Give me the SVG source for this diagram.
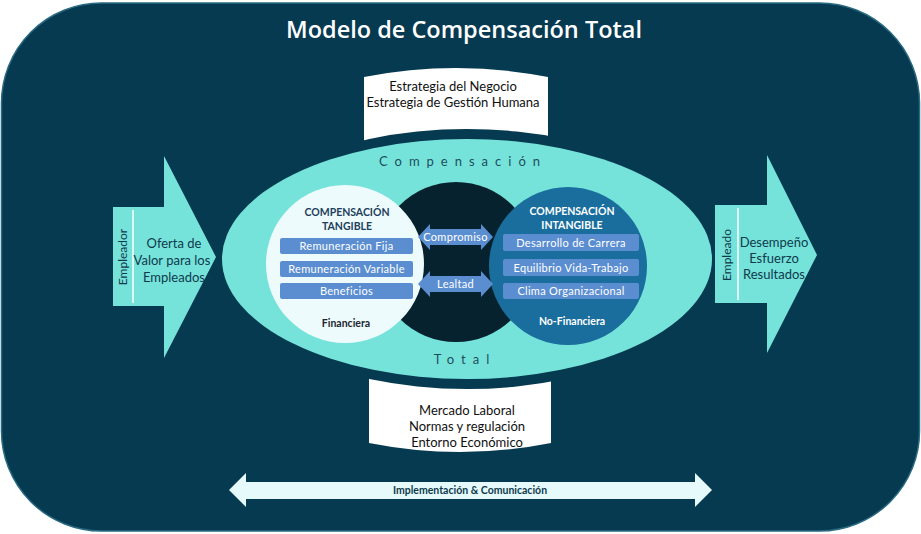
<svg xmlns="http://www.w3.org/2000/svg" width="921" height="534" viewBox="0 0 921 534">
<style>
.t{font-family:Lato,"Open Sans","Liberation Sans",sans-serif}
.box{fill:#5b8ed0}
.bt{font-family:Lato,"Open Sans","Liberation Sans",sans-serif;font-size:11px;fill:#ffffff;text-anchor:middle;letter-spacing:0.3px}
.hd{font-family:Lato,"Open Sans","Liberation Sans",sans-serif;font-size:10.5px;font-weight:bold;text-anchor:middle}
.dk{fill:#0f3a4c}
.teal{fill:#76e3da}
.sp{font-family:Lato,"Open Sans","Liberation Sans",sans-serif;font-size:13px;fill:#1e4d5c;text-anchor:middle;letter-spacing:7px}
.mid{font-family:Lato,"Open Sans","Liberation Sans",sans-serif;font-size:13px;fill:#111111;text-anchor:middle}
</style>
<g id="background">
<rect x="1.5" y="3" width="918" height="528" rx="100" ry="100" fill="#063a51" stroke="#2a6a82" stroke-width="1.5"/>
</g>
<g id="title">
<text x="464" y="38" font-family="'Open Sans',Lato,sans-serif" font-size="23.5" font-weight="600" fill="#ffffff" text-anchor="middle">Modelo de Compensación Total</text>
</g>
<g id="top-box">
<path d="M364,77 Q456,59 548,77 L548,150 L364,150 Z" fill="#ffffff"/>
</g>
<g id="bottom-box">
<path d="M369,375 L551,375 L551,443 Q460,461 369,443 Z" fill="#ffffff"/>
</g>
<g id="ellipse">
<ellipse cx="467" cy="259" rx="255" ry="130" fill="#063a51"/>
<ellipse cx="467" cy="259" rx="245" ry="120" fill="#76e3da"/>
<text class="sp" x="463" y="166">Compensación</text>
<text class="sp" x="465" y="364">Total</text>
</g>
<g id="top-box-text">
<text class="mid" x="453" y="91" font-size="12.5">Estrategia del Negocio</text>
<text class="mid" x="453" y="107" font-size="12.5">Estrategia de Gestión Humana</text>
</g>
<g id="bottom-box-text">
<text class="mid" x="467" y="415">Mercado Laboral</text>
<text class="mid" x="467" y="431">Normas y regulación</text>
<text class="mid" x="467" y="447">Entorno Económico</text>
</g>
<g id="center-circle">
<circle cx="456" cy="262" r="80" fill="#07222f"/>
</g>
<g id="tangible">
<circle cx="345" cy="264" r="79" fill="#eefbfd"/>
<text class="hd" x="347" y="216" fill="#1d3f5c">COMPENSACIÓN</text>
<text class="hd" x="347" y="230" fill="#1d3f5c">TANGIBLE</text>
<rect class="box" x="280" y="238" width="133" height="16" rx="2"/>
<text class="bt" x="346.5" y="250">Remuneración Fija</text>
<rect class="box" x="280" y="261" width="133" height="16" rx="2"/>
<text class="bt" x="346.5" y="273">Remuneración Variable</text>
<rect class="box" x="280" y="283" width="133" height="16" rx="2"/>
<text class="bt" x="346.5" y="295">Beneficios</text>
<text class="hd" x="346" y="327" fill="#1b2530" font-size="11">Financiera</text>
</g>
<g id="intangible">
<circle cx="568" cy="266" r="79" fill="#1a6e9d"/>
<text class="hd" x="572" y="215" fill="#ffffff">COMPENSACIÓN</text>
<text class="hd" x="572" y="229" fill="#ffffff">INTANGIBLE</text>
<rect class="box" x="503" y="234" width="136" height="17" rx="2"/>
<text class="bt" x="571" y="246.5">Desarrollo de Carrera</text>
<rect class="box" x="503" y="259" width="136" height="17" rx="2"/>
<text class="bt" x="571" y="271.5">Equilibrio Vida-Trabajo</text>
<rect class="box" x="503" y="283" width="136" height="16" rx="2"/>
<text class="bt" x="571" y="295">Clima Organizacional</text>
<text class="hd" x="572" y="325" fill="#ffffff" font-size="11">No-Financiera</text>
</g>
<g id="employer-arrow">
<polygon class="teal" points="113,207 164,207 164,156 216,257 164,358 164,306 113,306"/>
<line x1="133" y1="210" x2="133" y2="303" stroke="#ffffff" stroke-width="1.5"/>
<text class="t dk" x="0" y="0" font-size="12" text-anchor="middle" transform="translate(127,257) rotate(-90)">Empleador</text>
<text class="t dk" x="174" y="248" font-size="13" text-anchor="middle">Oferta de</text>
<text class="t dk" x="172" y="265" font-size="13" text-anchor="middle">Valor para los</text>
<text class="t dk" x="174" y="282" font-size="13" text-anchor="middle">Empleados</text>
</g>
<g id="employee-arrow">
<polygon class="teal" points="715,205 767,205 767,155 817,255 767,353 767,303 715,303"/>
<line x1="738" y1="208" x2="738" y2="300" stroke="#ffffff" stroke-width="1.5"/>
<text class="t dk" x="0" y="0" font-size="12" text-anchor="middle" transform="translate(731,255) rotate(-90)">Empleado</text>
<text class="t dk" x="774" y="247" font-size="13" text-anchor="middle">Desempeño</text>
<text class="t dk" x="774" y="263" font-size="13" text-anchor="middle">Esfuerzo</text>
<text class="t dk" x="774" y="279" font-size="13" text-anchor="middle">Resultados</text>
</g>
<g id="connectors">
<g id="compromiso">
<polygon class="box" points="418,237 430,224 430,229 481,229 481,224 493,237 481,250 481,245 430,245 430,250"/>
<text class="bt" x="455.5" y="241" font-size="10.5">Compromiso</text>
</g>
<g id="lealtad">
<polygon class="box" points="418,284 430,271 430,276 481,276 481,271 493,284 481,297 481,292 430,292 430,297"/>
<text class="bt" x="455.5" y="288" font-size="10.5">Lealtad</text>
</g>
<g id="implementacion">
<polygon points="229,490 246,473 246,482 695,482 695,473 712,490 695,507 695,499 246,499 246,507" fill="#e6fafb"/>
<text class="hd" x="470" y="494" fill="#0f3a4c" font-size="10">Implementación &amp; Comunicación</text>
</g>
</g>
</svg>
